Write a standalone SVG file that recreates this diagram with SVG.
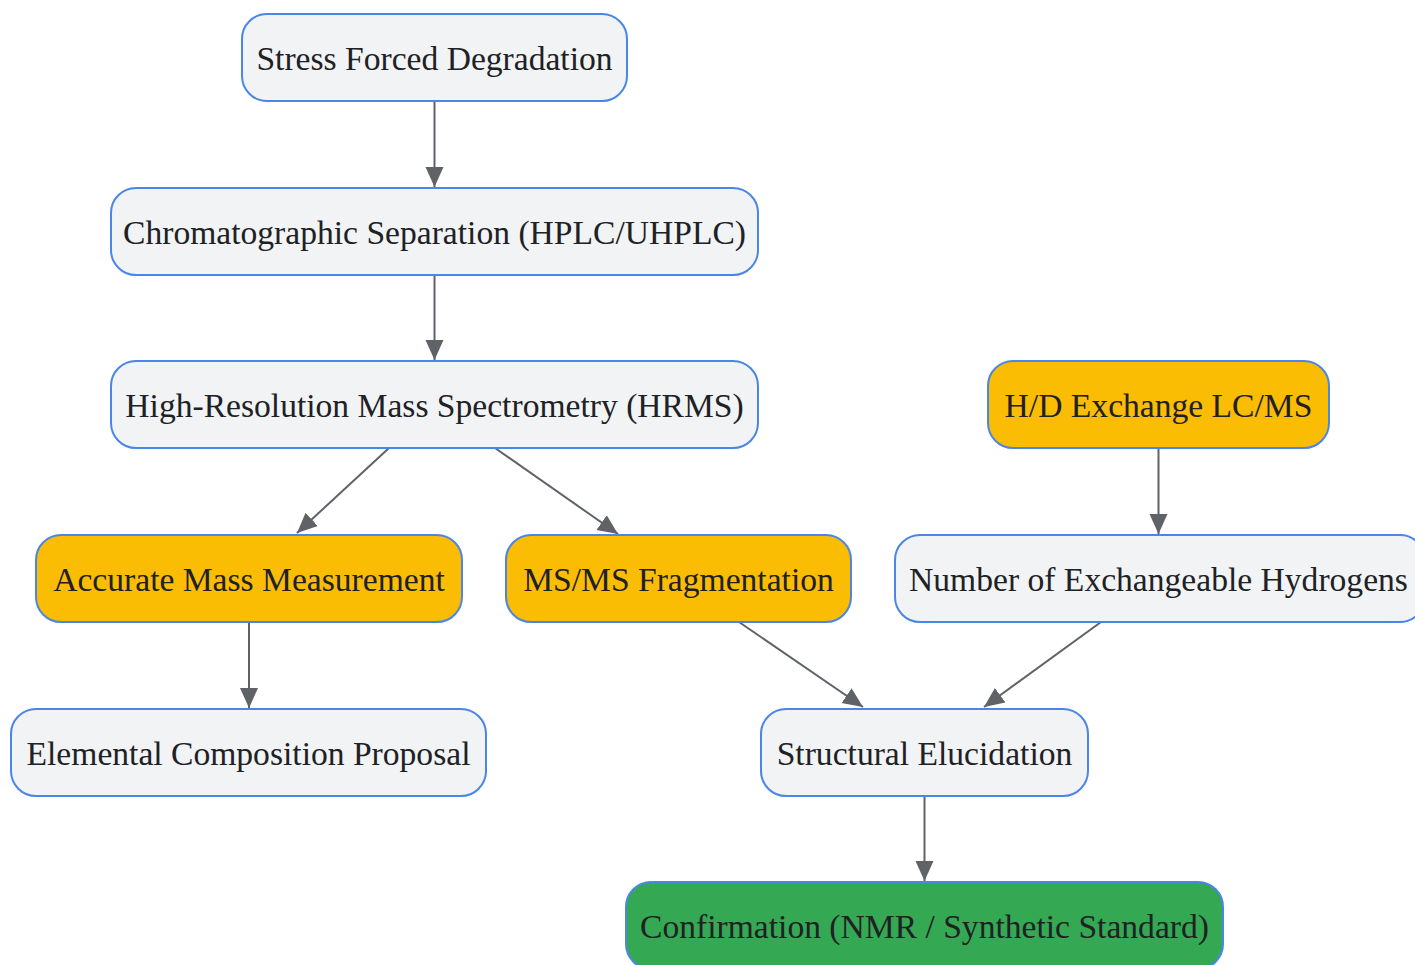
<svg xmlns="http://www.w3.org/2000/svg" width="1415" height="965" viewBox="0 0 1415 965">
<style>
.n rect{stroke:#4a86e8;stroke-width:2}
.g rect{fill:#f1f3f5}
.y rect{fill:#fbbc04}
.gr rect{fill:#34a853}
.n text{font-family:"Liberation Serif","Times New Roman",serif;font-size:33.6px;fill:#202124;text-anchor:middle}
.e line{stroke:#5f6368;stroke-width:2;fill:none}
</style>
<defs>
<marker id="ah" viewBox="0 0 20 20" refX="20" refY="10" markerWidth="20" markerHeight="20" markerUnits="userSpaceOnUse" orient="auto">
<path d="M0,1 L20,10 L0,19 Z" fill="#5f6368"/>
</marker>
</defs>
<rect width="1415" height="965" fill="#ffffff"/>
<g id="connectors" class="e">
<line x1="434.5" y1="101" x2="434.5" y2="187" marker-end="url(#ah)"/>
<line x1="434.5" y1="275" x2="434.5" y2="360" marker-end="url(#ah)"/>
<line x1="389" y1="448" x2="297" y2="533" marker-end="url(#ah)"/>
<line x1="495" y1="448" x2="618" y2="534" marker-end="url(#ah)"/>
<line x1="1158.5" y1="448" x2="1158.5" y2="534" marker-end="url(#ah)"/>
<line x1="249" y1="622" x2="249" y2="708" marker-end="url(#ah)"/>
<line x1="739" y1="622" x2="863" y2="707" marker-end="url(#ah)"/>
<line x1="1101" y1="622" x2="984" y2="707" marker-end="url(#ah)"/>
<line x1="924.5" y1="796" x2="924.5" y2="881" marker-end="url(#ah)"/>
</g>
<g id="stress" class="n g"><rect x="242" y="14" width="385" height="87" rx="25"/><text x="434.5" y="70">Stress Forced Degradation</text></g>
<g id="chrom" class="n g"><rect x="111" y="188" width="647" height="87" rx="25"/><text x="434.5" y="244">Chromatographic Separation (HPLC/UHPLC)</text></g>
<g id="hrms" class="n g"><rect x="111" y="361" width="647" height="87" rx="25"/><text x="434.5" y="417">High-Resolution Mass Spectrometry (HRMS)</text></g>
<g id="hd" class="n y"><rect x="988" y="361" width="341" height="87" rx="25"/><text x="1158.5" y="417">H/D Exchange LC/MS</text></g>
<g id="accurate" class="n y"><rect x="36" y="535" width="426" height="87" rx="25"/><text x="249" y="591">Accurate Mass Measurement</text></g>
<g id="msms" class="n y"><rect x="506" y="535" width="345" height="87" rx="25"/><text x="678.5" y="591">MS/MS Fragmentation</text></g>
<g id="number" class="n g"><rect x="895" y="535" width="530" height="87" rx="25"/><text x="1158.5" y="591">Number of Exchangeable Hydrogens</text></g>
<g id="elemental" class="n g"><rect x="11" y="709" width="475" height="87" rx="25"/><text x="248.5" y="765">Elemental Composition Proposal</text></g>
<g id="structural" class="n g"><rect x="761" y="709" width="327" height="87" rx="25"/><text x="924.5" y="765">Structural Elucidation</text></g>
<g id="confirm" class="n gr"><rect x="626" y="882" width="597" height="87" rx="25"/><text x="924.5" y="938">Confirmation (NMR / Synthetic Standard)</text></g>
</svg>
